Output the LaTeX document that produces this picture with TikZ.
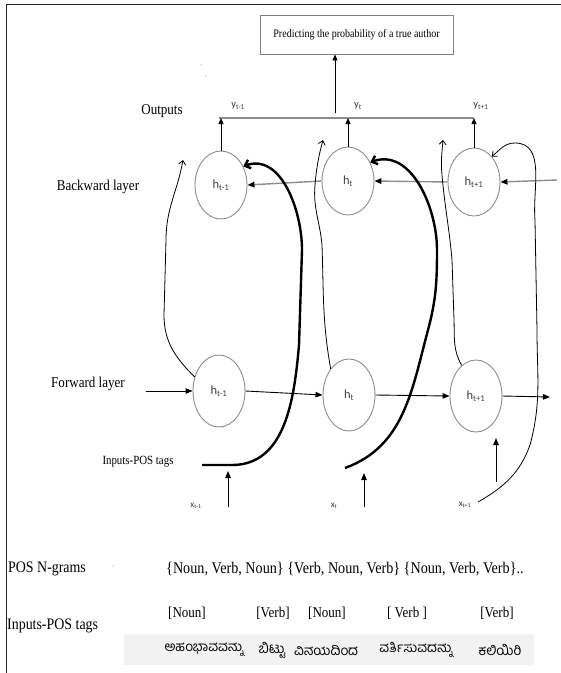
\documentclass[tikz,border=0pt]{standalone}
\usepackage{fontspec}
\setmainfont{Liberation Serif}
\newfontfamily\carl{Carlito}
\newfontfamily\kannada[Script=Kannada]{Hind Mysuru}
\usetikzlibrary{arrows.meta,shapes.geometric}

\newcommand{\fs}[1]{\fontsize{#1}{#1}\selectfont}
% narrow serif lettering
\newcommand{\sq}[1]{\scalebox{0.87}[1]{#1}}

\begin{document}
\begin{tikzpicture}[x=1pt,y=-1pt,
  cell/.style={draw=black!45, line width=0.9pt, ellipse, minimum width=52pt,
    minimum height=68pt, inner sep=0pt, text=black!75, font=\carl\fs{12.5}},
  fcell/.style={cell, minimum height=72pt},
  txt/.style={inner sep=0pt},
  fwd/.style={line width=0.9pt, -{Triangle[length=7pt,width=5.5pt]}},
  bwd/.style={draw=black!45, line width=1.4pt, -{Triangle[length=7pt,width=5.5pt,color=black]}},
  up/.style={line width=0.8pt, -{Triangle[length=6pt,width=5pt]}},
  hand/.style={line width=0.8pt, -{Straight Barb[length=4pt,width=7pt]}},
  bold/.style={line width=2.4pt, -{Straight Barb[length=5pt,width=9pt]}},
  sub/.style={txt, text=black!80, font=\carl\fs{10.5}},
]
\useasboundingbox (0,0) rectangle (561,673);

% frame edges
\draw[line width=1.6pt, black!85] (6.5,673) -- (6.5,4.5) -- (561,4.5);

% stray marks
\fill[black!40] (201,65) circle (0.7);
\fill[black!40] (206,76) circle (0.7);
\fill[black!40] (113,566) circle (0.7);

% result box
\node[draw=black!50, line width=0.9pt, minimum width=193pt, minimum height=39pt,
  inner sep=0pt, font=\fs{11.5}] (top) at (356.5,34.5) {\sq{Predicting the probability of a true author}};

% outputs
\node[txt, font=\fs{15}] (outl) at (162,111) {\sq{Outputs}};
\coordinate (ol) at (219,118);
\coordinate (or) at (474,118);
\draw[draw=black!45, line width=1.8pt] (ol) -- (or);
\coordinate (ts) at (335,113);
\draw[up] (ts) -- (ts |- top.south);
\node[sub] (y1) at (238,106) {y\textsubscript{t-1}};
\node[sub] (y2) at (358,106) {y\textsubscript{t}};
\node[sub] (y3) at (481,106) {y\textsubscript{t+1}};

% backward layer
\node[txt, font=\fs{15}] (bl) at (98,187) {\sq{Backward layer}};
\node[cell] (b1) at (221,185) {h\textsubscript{t-1}};
\node[cell] (b2) at (348,181) {h\textsubscript{t}};
\node[cell] (b3) at (474,182) {h\textsubscript{t+1}};
\draw[up] (b1.north) -- (b1.north |- ol);
\draw[up] (b2.north) -- (b2.north |- ol);
\draw[up] (b3.north) -- (b3.north |- ol);
\coordinate (bin) at (557,180);
\draw[bwd] (bin) -- (b3.east);
\draw[bwd] (b3.west) -- (b2.east);
\draw[bwd] (b2.west) -- (b1.east);

% forward layer
\node[txt, font=\fs{15}] (fl) at (88,384) {\sq{Forward layer}};
\node[fcell] (f1) at (219,391) {h\textsubscript{t-1}};
\node[fcell] (f2) at (349,395) {h\textsubscript{t}};
\node[fcell] (f3) at (476,396) {h\textsubscript{t+1}};
\coordinate (fin) at (146,391);
\draw[fwd] (fin) -- (f1.west);
\draw[fwd] (f1.east) -- (f2.west);
\draw[fwd] (f2.east) -- (f3.west);
\coordinate (fout) at (550,397);
\draw[fwd] (f3.east) -- (fout);

% inputs
\node[txt, font=\fs{12.5}] (inl) at (138,462) {\sq{Inputs-POS tags}};
\coordinate (i1a) at (228,507); \coordinate (i1b) at (228,471);
\coordinate (i2a) at (364,507); \coordinate (i2b) at (364,473);
\coordinate (i3a) at (496,482); \coordinate (i3b) at (496,438);
\draw[fwd] (i1a) -- (i1b);
\draw[fwd] (i2a) -- (i2b);
\draw[fwd] (i3a) -- (i3b);
\node[sub, font=\carl\fs{9}] (x1) at (196,506) {x\textsubscript{t-1}};
\node[sub, font=\carl\fs{9}] (x2) at (334,506) {x\textsubscript{t}};
\node[sub, font=\carl\fs{9}] (x3) at (465,505) {x\textsubscript{t+1}};

% hand-drawn links from the forward to the backward layer
\draw[hand] (f1.150) to[out=135,in=-90] (164,315) -- (166,240) to[out=90,in=-100] (183,160);
\draw[hand] (f2.125) to[out=100,in=-88] (322,245) to[out=95,in=-95] (315,185) to[out=85,in=-105] (323,140);
\draw[hand] (f3.115) to[out=120,in=-88] (454,320) -- (452,260) to[out=95,in=-85] (442,175) to[out=95,in=-95] (443,140);
\coordinate (r1) at (478,502);
\draw[hand] (r1) to[out=30,in=-110] (530,445) to[out=75,in=-90] (537,330) -- (535,220)
  to[out=95,in=0] (515,143) to[out=180,in=40] (b3.55);

% bold links from the inputs to the backward layer
\coordinate (k1) at (202,465);
\draw[bold] (k1) -- (232,465) to[out=0,in=-95] (299,345) -- (302,250) to[out=90,in=20] (b1.40);
\coordinate (k2) at (345,468);
\draw[bold] (k2) to[out=20,in=-105] (428,330) to[out=75,in=-90] (437,250) to[out=90,in=20] (b2.40);

% POS n-grams
\node[txt, anchor=west, font=\fs{16}] (pn) at (8,569) {\sq{POS N-grams}};
\node[txt, anchor=west, font=\fs{16.3}] (ng) at (166,569)
  {\sq{\{Noun, Verb, Noun\} \{Verb, Noun, Verb\} \{Noun, Verb, Verb\}..}};

% tagged input sentence
\node[txt, anchor=west, font=\fs{16}] (ip) at (7,626) {\sq{Inputs-POS tags}};
\node[txt, fill=black!5, minimum width=410pt, minimum height=31pt] (band) at (329,649.5) {};
\node[txt, font=\fs{15}] (t1) at (187,613) {\sq{[Noun]}};
\node[txt, font=\fs{15}] (t2) at (273,613) {\sq{[Verb]}};
\node[txt, font=\fs{15}] (t3) at (327,613) {\sq{[Noun]}};
\node[txt, font=\fs{15}] (t4) at (407,613) {\sq{[ Verb ]}};
\node[txt, font=\fs{15}] (t5) at (497,613) {\sq{[Verb]}};
\node[txt, font=\kannada\fs{13.5}] (w1) at (204,650) {ಅಹಂಭಾವವನ್ನು};
\node[txt, font=\kannada\fs{13.5}] (w2) at (272,650) {ಬಿಟ್ಟು};
\node[txt, font=\kannada\fs{13.5}] (w3) at (326,650) {ವಿನಯದಿಂದ};
\node[txt, font=\kannada\fs{13.5}] (w4) at (416,650) {ವರ್ತಿಸುವದನ್ನು};
\node[txt, font=\kannada\fs{13.5}] (w5) at (500,650) {ಕಲಿಯಿರಿ};
\end{tikzpicture}
\end{document}
